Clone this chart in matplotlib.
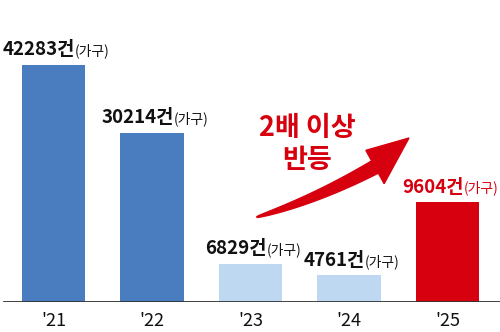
import numpy as np
import matplotlib
matplotlib.use('Agg')
import matplotlib.pyplot as plt
from matplotlib.patches import Polygon
from matplotlib.offsetbox import TextArea, HPacker, AnnotationBbox

plt.rcParams['font.family'] = ['Noto Sans CJK KR', 'DejaVu Sans']

# Data
years = ["'21", "'22", "'23", "'24", "'25"]
counts = [42283, 30214, 6829, 4761, 9604]
# bar lengths as drawn in the graphic ('25 is drawn taller than to scale)
drawn = [42283, 30214, 6829, 4761, 17800]
bar_colors = ['#4a7dbf', '#4a7dbf', '#bdd8f0', '#bdd8f0', '#d7000f']
label_colors = ['#111111', '#111111', '#111111', '#111111', '#d7000f']
note = '2배 이상\n반등'

W, H = 500, 332
fig = plt.figure(figsize=(W / 100, H / 100), dpi=100)
ax = fig.add_axes([0, 30 / H, 1, 1 - 30 / H])

x = np.arange(len(years))
ax.bar(x, drawn, width=0.64, color=bar_colors, zorder=2)
ax.set_xlim(-0.543, 4.533)
ax.set_ylim(0, 302 * 42283 / 237)
ax.axhline(0, xmin=0.008, xmax=1, color='#333333', lw=1.3, zorder=3)

for s in ax.spines.values():
    s.set_visible(False)
ax.set_yticks([])
ax.set_xticks(x)
ax.set_xticklabels(years, fontsize=13)
ax.tick_params(axis='x', length=0, pad=7, colors='#111111')

# value labels
for xi, h, v, c in zip(x, drawn, counts, label_colors):
    t1 = TextArea(f'{v}건', textprops=dict(fontsize=13.5, fontweight='heavy', color=c))
    t2 = TextArea('(가구)', textprops=dict(fontsize=10, color=c))
    box = HPacker(children=[t1, t2], align='baseline', pad=0, sep=0)
    ab = AnnotationBbox(box, (xi, h), xybox=(2, 4), xycoords='data',
                        boxcoords='offset points', box_alignment=(0.5, 0),
                        frameon=False)
    ax.add_artist(ab)

# tapered curved arrow (pixel coords, y from top)
def px(p):
    return (p[0] / W, 1 - p[1] / H)

p0 = np.array([257.0, 217.0])
p1 = np.array([315.0, 200.0])
p2 = np.array([375.0, 167.0])
tip = np.array([409.0, 138.0])
t = np.linspace(0, 1, 40)
pts = ((1 - t)[:, None] ** 2 * p0 + 2 * ((1 - t) * t)[:, None] * p1
       + (t ** 2)[:, None] * p2)
d = np.gradient(pts, axis=0)
d /= np.linalg.norm(d, axis=1)[:, None]
n = np.stack([d[:, 1], -d[:, 0]], axis=1)
w = 0.5 + 6.5 * t ** 0.7
upper = pts + n * w[:, None]
lower = pts - n * w[:, None]
dn = n[-1]
head = [p2 + dn * 19, tip, p2 - dn * 19]
poly = list(upper) + head + list(lower[::-1])
fig.patches.append(Polygon([px(p) for p in poly], closed=True,
                           transform=fig.transFigure, color='#d7000f', zorder=5))

fig.text(307 / W, 1 - 144 / H, note, ha='center', va='center', fontsize=19.5,
         fontweight='heavy', color='#d7000f', linespacing=1.15)

plt.savefig('out.png', dpi=100)
plt.close()
